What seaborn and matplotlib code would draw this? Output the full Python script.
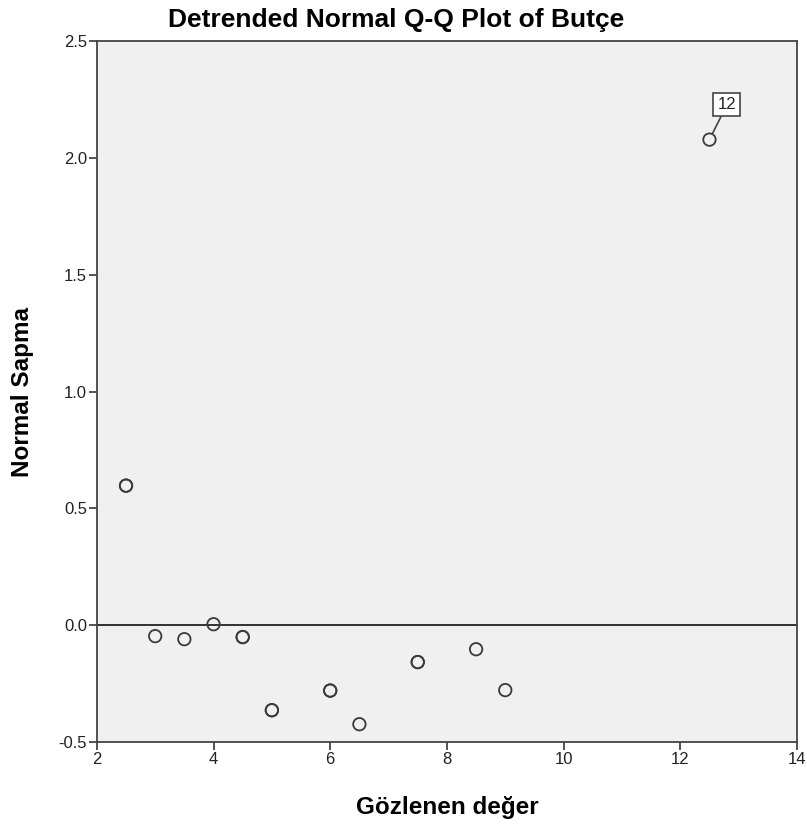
import numpy as np
import pandas as pd
import matplotlib
matplotlib.use("Agg")
import matplotlib.pyplot as plt
import seaborn as sns

# observed values and detrended deviations (duplicates drawn twice -> bolder rings)
gozlenen = [2.5, 2.5, 3.0, 3.5, 4.0, 4.5, 4.5, 5.0, 5.0, 6.0, 6.0, 6.5, 7.5, 7.5, 8.5, 9.0, 12.5]
sapma = [0.597, 0.597, -0.047, -0.06, 0.004, -0.051, -0.051, -0.364, -0.364,
         -0.28, -0.28, -0.424, -0.158, -0.158, -0.103, -0.278, 2.078]
etiket_x, etiket_y, etiket = 12.5, 2.078, "12"

df = pd.DataFrame({"Gözlenen değer": gozlenen, "Normal Sapma": sapma})

sns.set_style("ticks")
plt.rcParams["font.family"] = ["Liberation Sans", "DejaVu Sans"]

fig = plt.figure(figsize=(8.07, 8.27), dpi=100)
ax = fig.add_axes([0.120, 0.1028, 0.8676, 0.8476])
ax.set_facecolor("#f0f0f0")

ax.axhline(0, color="#222222", lw=1.3, zorder=1)
sns.scatterplot(data=df, x="Gözlenen değer", y="Normal Sapma", ax=ax,
                marker="o", s=80, facecolor="none", edgecolor="#3a3a3a",
                linewidth=1.3, zorder=3)

ax.annotate(etiket, xy=(etiket_x, etiket_y), xytext=(etiket_x + 0.3, etiket_y + 0.15),
            fontsize=12, ha="center", va="center", color="#222222",
            bbox=dict(boxstyle="square,pad=0.25", fc="white", ec="#444444", lw=1.2),
            arrowprops=dict(arrowstyle="-", color="#444444", lw=1.2, shrinkA=0, shrinkB=5))

ax.set_xlim(2, 14)
ax.set_ylim(-0.5, 2.5)
ax.set_xticks([2, 4, 6, 8, 10, 12, 14])
ax.set_yticks([-0.5, 0.0, 0.5, 1.0, 1.5, 2.0, 2.5])
ax.set_yticklabels(["-0.5", "0.0", "0.5", "1.0", "1.5", "2.0", "2.5"])

for sp in ax.spines.values():
    sp.set_visible(True)
    sp.set_color("#444444")
    sp.set_linewidth(1.3)
ax.tick_params(direction="out", length=6, width=1.3, color="#444444",
               labelsize=12, labelcolor="#222222", pad=1)

ax.set_xlabel("Gözlenen değer", fontsize=17.5, fontweight="bold", labelpad=21, color="black")
ax.set_ylabel("Normal Sapma", fontsize=17.5, fontweight="bold", labelpad=18, color="black")
fig.text(0.491, 1 - 27 / 827, "Detrended Normal Q-Q Plot of Butçe", fontsize=19,
         fontweight="bold", ha="center", va="baseline", color="black")

fig.savefig("out.png", dpi=100)
